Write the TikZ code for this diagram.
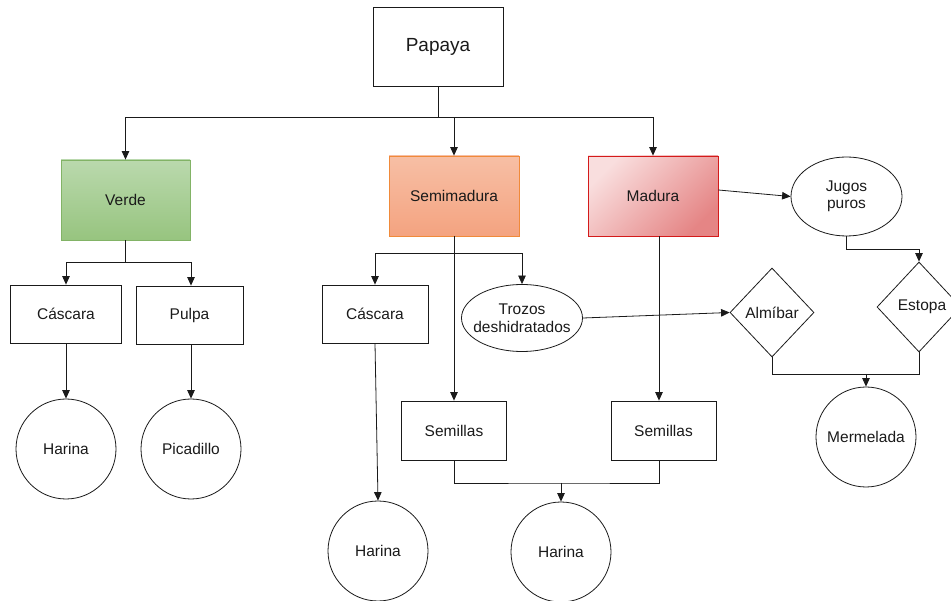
\documentclass[tikz,border=0pt]{standalone}
\usepackage{fontspec}
\setmainfont{Liberation Sans}
\usetikzlibrary{positioning,shapes.geometric,arrows.meta,calc}
\definecolor{ink}{HTML}{1A1A1A}
\definecolor{verdetop}{HTML}{BAD9AD}
\definecolor{verdebot}{HTML}{97C47F}
\definecolor{verdeline}{HTML}{82B366}
\definecolor{semitop}{HTML}{F7BFA5}
\definecolor{semibot}{HTML}{F4A380}
\definecolor{semiline}{HTML}{F08A3A}
\definecolor{madtop}{HTML}{F9DEDE}
\definecolor{madbot}{HTML}{E58585}
\definecolor{madline}{HTML}{D41A1A}

\tikzset{
  box/.style={draw=ink,line width=0.8pt,rectangle,text=ink,inner sep=0pt},
  ball/.style={draw=ink,line width=0.8pt,circle,minimum size=100pt,inner sep=0pt,text=ink},
  oval/.style={draw=ink,line width=0.8pt,ellipse,inner sep=0pt,text=ink,align=center},
  rhomb/.style={draw=ink,line width=0.8pt,diamond,inner sep=0pt,minimum width=84pt,minimum height=89pt,text=ink},
  link/.style={draw=ink,line width=0.8pt},
  arr/.style={link,-{Triangle[length=8.5pt,width=7.5pt]}}
}

\begin{document}
\begin{tikzpicture}[x=1pt,y=-1pt,font=\fontsize{15.5}{17.5}\selectfont]
\useasboundingbox (0,0) rectangle (951,601);

% top level
\node[box,minimum width=130pt,minimum height=79pt,font=\fontsize{19}{21}\selectfont] (papaya) at (438,46.5) {Papaya};

\node[box,draw=verdeline,top color=verdetop,bottom color=verdebot,minimum width=129pt,minimum height=80pt] (verde) at (125.5,200) {Verde};
\node[box,draw=semiline,top color=semitop,bottom color=semibot,minimum width=130pt,minimum height=80pt] (semi) at (454,196) {Semimadura};
\node[box,draw=madline,shading=axis,top color=madtop,bottom color=madbot,shading angle=45,minimum width=130pt,minimum height=80pt] (madura) at (653,196) {Madura};

% verde
\node[box,minimum width=111pt,minimum height=58pt] (cascaraA) at (66,314) {Cáscara};
\node[box,minimum width=107pt,minimum height=58pt] (pulpa) at (189.5,315) {Pulpa};
\node[ball] (harinaA) at (66,449) {Harina};
\node[ball] (picadillo) at (191,449) {Picadillo};

% semimadura
\node[box,minimum width=106pt,minimum height=58pt] (cascaraB) at (375,314) {Cáscara};
\node[oval,inner xsep=-6pt,minimum width=121pt,minimum height=67pt] (trozos) at (522,318) {Trozos\\deshidratados};
\node[ball] (harinaB) at (378,551) {Harina};
\node[box,minimum width=105pt,minimum height=59pt] (semillasA) at (454,430.5) {Semillas};
\node[box,minimum width=105pt,minimum height=59pt] (semillasB) at (663.5,430.5) {Semillas};
\node[ball] (harinaC) at (561,552) {Harina};

% madura
\node[oval,minimum width=111pt,minimum height=79pt] (jugos) at (846.5,196.5) {Jugos\\puros};
\node[rhomb] (almibar) at (772,312.5) {Almíbar};
\node[rhomb,minimum height=90pt] (estopa) at (919,307) {\hspace*{6pt}Estopa};
\node[ball] (mermelada) at (866,437) {Mermelada};

% junctions
\coordinate (jtop) at (438,117.5);
\coordinate (jsem) at (561,483);
\coordinate (jmer) at (866,374);

\draw[link] (papaya.south) -- (jtop);
\draw[arr] (jtop) -| (verde.north);
\draw[arr] (jtop) -| (semi.north);
\draw[arr] (jtop) -| (madura.north);

\draw[arr] (verde.south) -- ++(0,22) -| (cascaraA.north);
\draw[arr] (verde.south) -- ++(0,22) -| ([xshift=1.5pt]pulpa.north);
\draw[arr] (cascaraA.south) -- (harinaA.north);
\draw[arr] ([xshift=1.5pt]pulpa.south) -- ([xshift=1.5pt]pulpa.south |- picadillo.north);

\draw[arr] (semi.south) -- (semillasA.north);
\draw[arr] (semi.south) -- ++(0,17) -| (cascaraB.north);
\draw[arr] (semi.south) -- ++(0,17) -| (trozos.north);
\draw[arr] (cascaraB.south) -- (harinaB.north);
\draw[arr] (trozos.east) -- (almibar.west);

\draw[arr] ([xshift=6pt]madura.south) -- ([xshift=6pt]madura.south |- semillasB.north);
\draw[link] (semillasA.south) |- (jsem) -| ([xshift=-4.5pt]semillasB.south);
\draw[arr] (jsem) -- (harinaC.north);

\draw[arr] ([yshift=6pt]madura.east) -- (jugos.west);
\draw[arr] (jugos.south) -- ++(0,13) -| (estopa.north);
\draw[link] (almibar.south) |- (jmer);
\draw[link] (estopa.south) |- (jmer);
\draw[arr] (jmer) -- (mermelada.north);
\end{tikzpicture}
\end{document}
